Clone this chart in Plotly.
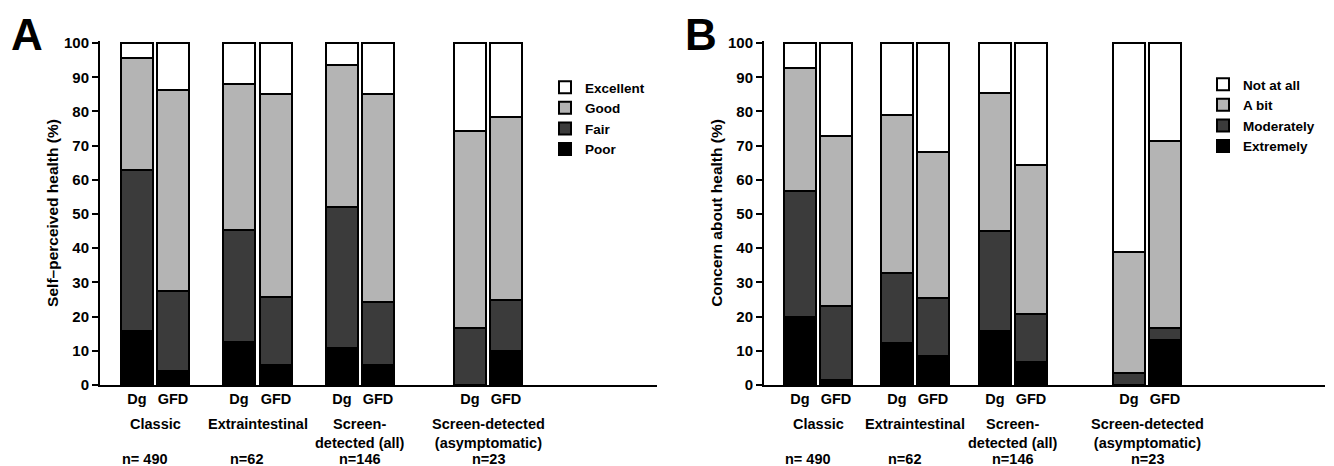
import plotly.graph_objects as go

# ---------------- data ----------------
groups = ["Classic", "Extraintestinal", "Screen-<br>detected (all)", "Screen-detected<br>(asymptomatic)"]
n_labels = ["n= 490", "n=62", "n=146", "n=23"]
timepoints = ["Dg", "GFD"]

# Panel A: self-perceived health (%), order per bar: Classic Dg, Classic GFD, Extra Dg, Extra GFD, Screen Dg, Screen GFD, Asym Dg, Asym GFD
health_labels = ["Poor", "Fair", "Good", "Excellent"]
health_poor = [15.9, 4.2, 12.6, 5.8, 10.8, 5.8, 0.0, 9.8]
health_fair = [47.0, 23.2, 32.7, 20.0, 41.3, 18.6, 16.7, 15.1]
health_good = [32.7, 59.0, 42.6, 59.2, 41.5, 60.6, 57.6, 53.6]
health_excellent = [4.4, 13.6, 12.1, 15.0, 6.4, 15.0, 25.7, 21.5]

# Panel B: concern about health (%)
concern_labels = ["Extremely", "Moderately", "A bit", "Not at all"]
concern_extremely = [20.0, 1.6, 12.2, 8.4, 15.8, 6.6, 0.0, 13.3]
concern_moderately = [36.8, 21.5, 20.6, 17.1, 29.2, 14.2, 3.5, 3.4]
concern_abit = [36.0, 49.8, 46.3, 42.5, 40.5, 43.4, 35.3, 54.7]
concern_notatall = [7.2, 27.1, 20.9, 32.0, 14.5, 35.8, 61.2, 28.6]

# ---------------- layout constants ----------------
PAGE_W, PAGE_H = 1334, 466
OFF = 8  # default body margin of the html page
W, H = PAGE_W - OFF, PAGE_H - OFF

def fx(px):  # page pixel x -> paper fraction
    return (px - OFF) / W

def fy(py):  # page pixel y (from top) -> paper fraction
    return 1 - (py - OFF) / H

fills = ["#000000", "#3b3b3b", "#b4b4b4", "#ffffff"]
FONT = "Liberation Sans, Arial, Helvetica, sans-serif"

# bar centres in axis units (= pixels from the y axis)
posA = [37, 73, 139, 176, 242, 278, 370, 406]
posB = [36, 72, 133, 169, 231, 267, 365, 401]
bar_w = 32
rangeA = [0, 557]
rangeB = [0, 561]
axA_left, axB_left = 100, 764
y_bottom_px, y_top_px = 385, 41

fig = go.Figure()

def add_panel(series, labels, pos, xa, ya, legend):
    for vals, name, col in zip(series, labels, fills):
        fig.add_trace(go.Bar(
            x=pos, y=vals, width=bar_w, name=name,
            marker=dict(color=col, line=dict(color="black", width=2)),
            xaxis=xa, yaxis=ya, legend=legend, hoverinfo="y+name",
        ))

add_panel([health_poor, health_fair, health_good, health_excellent], health_labels, posA, "x", "y", "legend")
add_panel([concern_extremely, concern_moderately, concern_abit, concern_notatall], concern_labels, posB, "x2", "y2", "legend2")

ydom = [fy(y_bottom_px), fy(y_top_px)]
tick_txt = timepoints * 4

def xaxis_cfg(left, rng, pos, anchor):
    return dict(domain=[fx(left), fx(left + rng[1])], range=rng, showgrid=False, zeroline=False,
                showline=True, linecolor="black", linewidth=1.5, ticks="", automargin=False,
                tickvals=pos, ticktext=tick_txt, tickfont=dict(size=14.5, color="black", family=FONT, weight="bold"),
                anchor=anchor, fixedrange=True)

def yaxis_cfg(title, anchor):
    return dict(domain=ydom, range=[0, 100.6], tickvals=list(range(0, 101, 10)), showgrid=False, zeroline=False,
                showline=True, linecolor="black", linewidth=2, ticks="outside", ticklen=6, tickwidth=1.5,
                tickcolor="black", tickfont=dict(size=15, color="black", family=FONT, weight="bold"),
                title=dict(text=title, font=dict(size=15.5, color="black", family=FONT, weight="bold"), standoff=2),
                anchor=anchor, automargin=False, fixedrange=True)

legend_common = dict(traceorder="reversed", bgcolor="rgba(0,0,0,0)", font=dict(size=13.5, color="black", family=FONT, weight="bold"),
                     itemsizing="constant", xanchor="left", yanchor="top", tracegroupgap=0)

fig.update_layout(
    width=W, height=H, margin=dict(l=0, r=0, t=0, b=0, autoexpand=False),
    paper_bgcolor="white", plot_bgcolor="white", barmode="stack", bargap=0,
    font=dict(family=FONT, color="black"),
    xaxis=xaxis_cfg(axA_left, rangeA, posA, "y"),
    yaxis=yaxis_cfg("Self\u2013perceived health (%)", "x"),
    xaxis2=xaxis_cfg(axB_left, rangeB, posB, "y2"),
    yaxis2=yaxis_cfg("Concern about health (%)", "x2"),
    legend=dict(x=fx(545), y=fy(72), **legend_common),
    legend2=dict(x=fx(1203), y=fy(69), **legend_common),
    showlegend=True,
)

# group labels and n labels
ann = []
n_shift = [-10, -11, 0, 0]
for xa, pos in (("x", posA), ("x2", posB)):
    for i, (g, nl) in enumerate(zip(groups, n_labels)):
        cx = (pos[2 * i] + pos[2 * i + 1]) / 2
        ann.append(dict(x=cx, y=fy(414), xref=xa, yref="paper", text=g, showarrow=False,
                        xanchor="center", yanchor="top",
                        font=dict(size=14.5, family=FONT, color="black", weight="bold")))
        ann.append(dict(x=cx, y=fy(459), xref=xa, yref="paper", text=nl, showarrow=False, xshift=n_shift[i],
                        xanchor="center", yanchor="middle",
                        font=dict(size=14.5, family=FONT, color="black", weight="bold")))
ann.append(dict(x=fx(27), y=fy(9), xref="paper", yref="paper", text="A", showarrow=False,
                xanchor="center", yanchor="top", borderpad=0,
                font=dict(size=44, family=FONT, color="black", weight="bold")))
ann.append(dict(x=fx(701), y=fy(9), xref="paper", yref="paper", text="B", showarrow=False,
                xanchor="center", yanchor="top", borderpad=0,
                font=dict(size=44, family=FONT, color="black", weight="bold")))
fig.update_layout(annotations=ann)

fig.write_html("out.html")
